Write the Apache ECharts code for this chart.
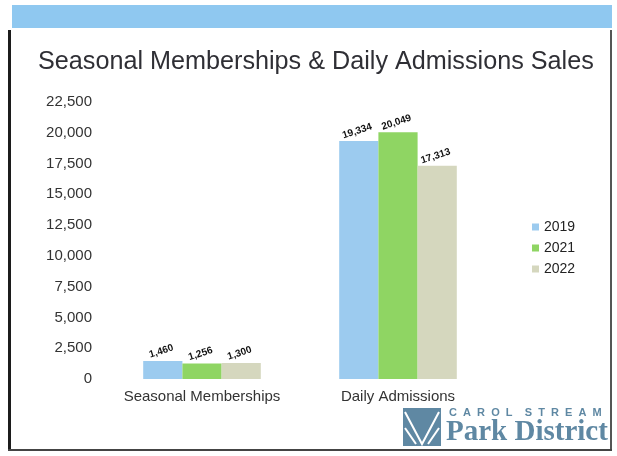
<!DOCTYPE html>
<html>
<head>
<meta charset="utf-8">
<script src="https://cdn.jsdelivr.net/npm/echarts@6/dist/echarts.min.js"></script>
<style>
  html, body { margin: 0; padding: 0; background: #fff; }
  #chart { width: 617px; height: 456px; }
</style>
</head>
<body>
<div id="chart"></div>
<script>
const categories = ['Seasonal Memberships', 'Daily Admissions'];
const years = ['2019', '2021', '2022'];
const sales2019 = [1460, 19334];
const sales2021 = [1256, 20049];
const sales2022 = [1300, 17313];
const yearColors = ['#9ccbef', '#8fd563', '#d5d7be'];

const chart = echarts.init(document.getElementById('chart'));
const font = 'Liberation Sans, Arial, sans-serif';

const makeSeries = (name, data, color) => ({
  name: name,
  type: 'bar',
  data: data,
  barGap: '0%',
  barCategoryGap: '40%',
  itemStyle: { color: color },
  label: {
    show: true,
    position: 'top',
    rotate: 18,
    distance: 5,
    fontSize: 10,
    fontWeight: 'bold',
    color: '#111',
    fontFamily: font,
    formatter: p => p.value.toLocaleString('en-US')
  }
});

chart.setOption({
  animation: false,
  backgroundColor: '#fff',
  textStyle: { fontFamily: font },
  title: {
    text: 'Seasonal Memberships & Daily Admissions Sales',
    left: 33,
    top: 45,
    textStyle: { fontSize: 25.2, fontWeight: 'normal', color: '#2f2f35', fontFamily: font }
  },
  legend: {
    data: years,
    orient: 'vertical',
    left: 527,
    top: 215,
    itemWidth: 7,
    itemHeight: 7,
    itemGap: 7,
    icon: 'rect',
    textStyle: { fontSize: 14, color: '#222', fontFamily: font }
  },
  grid: { left: 104, right: 121, top: 102, bottom: 77 },
  xAxis: {
    type: 'category',
    data: categories,
    axisLine: { show: false },
    axisTick: { show: false },
    axisLabel: { interval: 0, fontSize: 15, color: '#333', margin: 10, fontFamily: font }
  },
  yAxis: {
    type: 'value',
    min: 0,
    max: 22500,
    interval: 2500,
    axisLine: { show: false },
    axisTick: { show: false },
    splitLine: { show: false },
    axisLabel: {
      fontSize: 15,
      color: '#333',
      margin: 12,
      fontFamily: font,
      formatter: v => v.toLocaleString('en-US')
    }
  },
  series: [
    makeSeries(years[0], sales2019, yearColors[0]),
    makeSeries(years[1], sales2021, yearColors[1]),
    makeSeries(years[2], sales2022, yearColors[2])
  ],
  graphic: [
    // slide frame
    { type: 'rect', shape: { x: 12, y: 5, width: 600, height: 23 }, style: { fill: '#8fc8f0' }, silent: true },
    { type: 'rect', shape: { x: 8, y: 30, width: 3, height: 420 }, style: { fill: '#1c1c1c' }, silent: true },
    { type: 'rect', shape: { x: 610, y: 30, width: 2, height: 420 }, style: { fill: '#555' }, silent: true },
    { type: 'rect', shape: { x: 8, y: 449, width: 604, height: 2 }, style: { fill: '#444' }, silent: true },
    // logo
    { type: 'rect', shape: { x: 403, y: 408, width: 38, height: 38 }, style: { fill: '#5f88a3' }, silent: true },
    { type: 'polyline', shape: { points: [[405, 412], [422, 444], [439, 412]] }, style: { stroke: '#fff', lineWidth: 2, fill: null }, silent: true },
    { type: 'polyline', shape: { points: [[405, 428], [416, 444]] }, style: { stroke: '#fff', lineWidth: 2, fill: null }, silent: true },
    { type: 'polyline', shape: { points: [[439, 428], [428, 444]] }, style: { stroke: '#fff', lineWidth: 2, fill: null }, silent: true },
    {
      type: 'text', left: 449, top: 407, silent: true,
      style: { text: 'C  A  R  O  L    S  T  R  E  A  M', fontSize: 11, fontWeight: 'bold', fontFamily: font, fill: '#5f88a3' }
    },
    {
      type: 'text', left: 446, top: 418, silent: true,
      style: { text: 'Park District', fontSize: 29, fontFamily: 'Liberation Serif, DejaVu Serif, serif', fontWeight: 'bold', fill: '#5f88a3' }
    }
  ]
});
</script>
</body>
</html>
